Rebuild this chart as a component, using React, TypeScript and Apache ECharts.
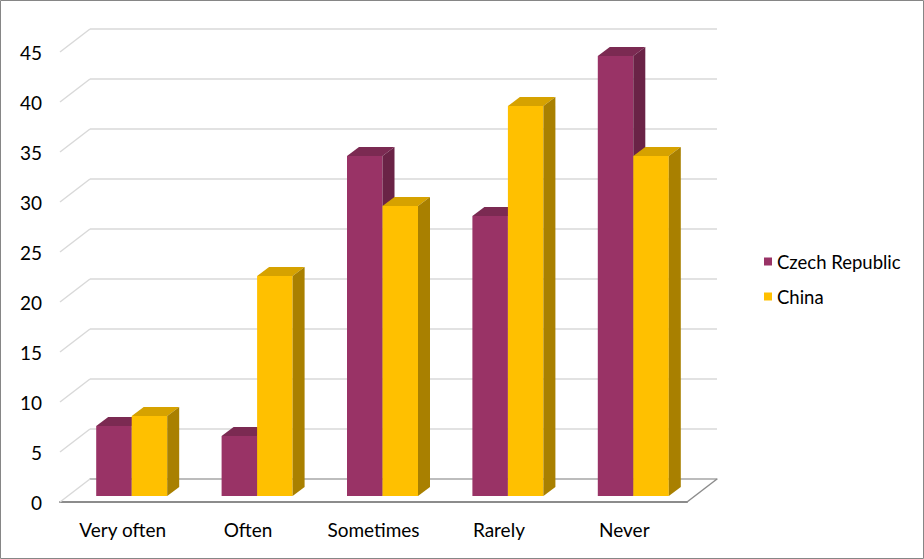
import React, { useEffect, useRef } from "react";
import * as echarts from "echarts";

const categories = ["Very often", "Often", "Sometimes", "Rarely", "Never"];
const czechValues = [7, 6, 34, 28, 44];
const chinaValues = [8, 22, 29, 39, 34];
const yTicks = [0, 5, 10, 15, 20, 25, 30, 35, 40, 45];

const FONT = "Lato";

function makeBarRenderer(side: number, front: string, top: string, sideCol: string) {
  return (params: any, api: any) => {
    const ci = api.value(0);
    const v = api.value(1);
    const base = api.coord([ci, 0]);
    const tp = api.coord([ci, v]);
    const w = 35.5;
    const dx = 12;
    const dy = 9;
    const x0 = side < 0 ? base[0] - w : base[0];
    const x1 = x0 + w;
    const yt = tp[1];
    const yb = base[1];
    return {
      type: "group",
      children: [
        { type: "rect", shape: { x: x0, y: yt, width: w, height: yb - yt }, style: { fill: front } },
        {
          type: "polygon",
          shape: { points: [[x0, yt], [x0 + dx, yt - dy], [x1 + dx, yt - dy], [x1, yt]] },
          style: { fill: top },
        },
        {
          type: "polygon",
          shape: { points: [[x1, yt], [x1 + dx, yt - dy], [x1 + dx, yb - dy], [x1, yb]] },
          style: { fill: sideCol },
        },
      ],
    };
  };
}

export default function App() {
  const ref = useRef<HTMLDivElement>(null);
  useEffect(() => {
    if (!ref.current) return;
    const chart = echarts.init(ref.current, null, { renderer: "svg" });
    const option: any = {
      animation: false,
      backgroundColor: "#ffffff",
      color: ["#993366", "#FFC000"],
      textStyle: { fontFamily: FONT },
      graphic: [
        {
          type: "rect",
          shape: { x: 0.5, y: 0.5, width: 923, height: 558 },
          style: { fill: "none", stroke: "#868686", lineWidth: 1 },
          z: 100,
        },
      ],
      legend: {
        orient: "vertical",
        left: 759,
        top: 247,
        itemWidth: 8,
        itemHeight: 8,
        itemGap: 16,
        icon: "rect",
        textStyle: { fontFamily: FONT, fontSize: 18.5, color: "#000" },
        data: [
          { name: "Czech Republic", itemStyle: { color: "#993366" } },
          { name: "China", itemStyle: { color: "#FFC000" } },
        ],
      },
      grid: [
        { left: 60, right: 237, top: 52, bottom: 57 },
        { left: 90, right: 207, top: 29, bottom: 80 },
        { left: 69, right: 228, top: 46, bottom: 63 },
      ],
      xAxis: [
        {
          gridIndex: 0,
          type: "category",
          data: categories,
          axisLine: { show: true, lineStyle: { color: "#8c8c8c", width: 2 } },
          axisTick: { show: false },
          axisLabel: { fontFamily: FONT, fontSize: 19, color: "#000", margin: 18 },
        },
        {
          gridIndex: 1,
          type: "category",
          data: categories,
          axisLine: { show: true, lineStyle: { color: "#b0b0b0", width: 1.5 } },
          axisTick: { show: false },
          axisLabel: { show: false },
        },
        {
          gridIndex: 2,
          type: "category",
          data: categories,
          show: false,
        },
      ],
      yAxis: [
        {
          gridIndex: 0,
          type: "value",
          min: 0,
          max: 45,
          interval: 5,
          axisLine: { show: false },
          axisTick: { show: false },
          splitLine: { show: false },
          axisLabel: { fontFamily: FONT, fontSize: 19, color: "#000", margin: 18 },
        },
        {
          gridIndex: 1,
          type: "value",
          min: 0,
          max: 45,
          interval: 5,
          axisLine: { show: false },
          axisTick: { show: false },
          axisLabel: { show: false },
          splitLine: { show: true, lineStyle: { color: "#d9d9d9", width: 1.5 } },
        },
        {
          gridIndex: 2,
          type: "value",
          min: 0,
          max: 45,
          interval: 5,
          show: false,
        },
      ],
      series: [
        {
          type: "custom",
          name: "walls",
          xAxisIndex: 0,
          yAxisIndex: 0,
          silent: true,
          data: yTicks.map((t) => [0, t]),
          renderItem: (params: any, api: any) => {
            const cs = params.coordSys;
            const y = api.coord([0, api.value(1)])[1];
            return {
              type: "line",
              shape: { x1: cs.x, y1: y, x2: cs.x + 30, y2: y - 23 },
              style: { stroke: "#d9d9d9", lineWidth: 1.5 },
            };
          },
        },
        {
          type: "custom",
          name: "floorEdge",
          xAxisIndex: 0,
          yAxisIndex: 0,
          silent: true,
          data: [[0, 0]],
          renderItem: (params: any, api: any) => {
            const cs = params.coordSys;
            const y = api.coord([0, 0])[1];
            const x = cs.x + cs.width;
            return {
              type: "line",
              shape: { x1: x, y1: y, x2: x + 30, y2: y - 23 },
              style: { stroke: "#8c8c8c", lineWidth: 1.5 },
            };
          },
        },
        {
          type: "custom",
          name: "Czech Republic",
          xAxisIndex: 2,
          yAxisIndex: 2,
          itemStyle: { color: "#993366" },
          data: czechValues.map((v, i) => [i, v]),
          renderItem: makeBarRenderer(-1, "#993366", "#7B2A52", "#6A2346"),
        },
        {
          type: "custom",
          name: "China",
          xAxisIndex: 2,
          yAxisIndex: 2,
          itemStyle: { color: "#FFC000" },
          data: chinaValues.map((v, i) => [i, v]),
          renderItem: makeBarRenderer(1, "#FFC000", "#D6A200", "#A98000"),
        },
      ],
    };
    chart.setOption(option);
    return () => chart.dispose();
  }, []);
  return (
    <div
      ref={ref}
      style={{ position: "fixed", left: 0, top: 0, width: 924, height: 559 }}
    />
  );
}
